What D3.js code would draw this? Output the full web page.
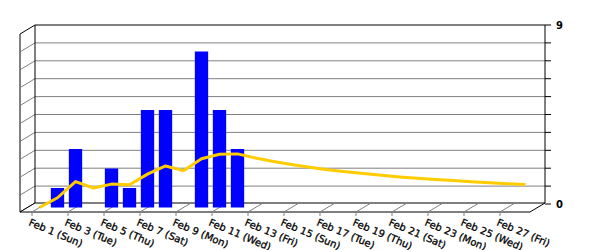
<!DOCTYPE html>
<html>
<head>
<meta charset="utf-8">
<script src="https://cdn.jsdelivr.net/npm/d3@7"></script>
<style>
body {margin: 0; background: #fff;}
text {font-family: 'DejaVu Sans', sans-serif; font-size: 10px; fill: #000;}
.xlab {stroke: #000; stroke-width: 0.3px;}
</style>
</head>
<body>
<svg id="chart" width="600" height="250"></svg>
<script>
// one category per day, Feb 1 .. Feb 28
var days = ['1','2','3','4','5','6','7','8','9','10','11','12','13','14',
  '15','16','17','18','19','20','21','22','23','24','25','26','27','28']

// daily counts (bars)
var counts = [0, 1, 3, 0, 2, 1, 5, 5, 0, 8, 5, 3, 0, 0,
  0, 0, 0, 0, 0, 0, 0, 0, 0, 0, 0, 0, 0, 0]

// running average (line)
var avg = [0, 0.5, 1.33, 1.0, 1.2, 1.17, 1.71, 2.13, 1.89, 2.5, 2.73, 2.75, 2.54, 2.36,
  2.2, 2.06, 1.94, 1.83, 1.74, 1.65, 1.57, 1.5, 1.43, 1.38, 1.32, 1.27, 1.22, 1.18]

var tickDays = ['1','3','5','7','9','11','13','15','17','19','21','23','25','27']
var tickLabels = ['Feb 1 (Sun)', 'Feb 3 (Tue)', 'Feb 5 (Thu)', 'Feb 7 (Sat)', 'Feb 9 (Mon)',
  'Feb 11 (Wed)', 'Feb 13 (Fri)', 'Feb 15 (Sun)', 'Feb 17 (Tue)', 'Feb 19 (Thu)',
  'Feb 21 (Sat)', 'Feb 23 (Mon)', 'Feb 25 (Wed)', 'Feb 27 (Fri)']

var axisLabels = [0, 9]


var left = 35, right = 545, wallTop = 25, bottom = 203
var dx = 15, dy = 9   // 3d depth offset
var grey = '#808080'

var svg = d3.select('#chart')

// categories sit half way into the floor
var x = d3.scalePoint().domain(days)
  .range([left - dx/2, right - dx/2])
  .padding(0.667)
var y = d3.scaleLinear().domain([0, 9]).range([bottom + dy/2, wallTop + 2.5 + dy/2])
var yAxis = d3.scaleLinear().domain([0, 9]).range([bottom + 1, wallTop])

var gridVals = d3.range(1, 10).map(i => i*0.9)

// side wall
svg.append('path')
  .attr('d', d3.line()([[left, wallTop], [left - dx, wallTop + dy], [left - dx, bottom + dy], [left, bottom]]))
  .attr('fill', '#fff').attr('stroke', '#000')

// gridlines on side + back wall
svg.selectAll('path.grid').data(gridVals).join('path')
  .attr('class', 'grid')
  .attr('d', v => d3.line()([[left - dx, yAxis(v) + dy], [left, yAxis(v)], [right, yAxis(v)]]))
  .attr('fill', 'none').attr('stroke', grey)

// back wall outline
svg.append('path')
  .attr('d', d3.line()([[left, bottom], [left, wallTop], [right, wallTop], [right, bottom]]))
  .attr('fill', 'none').attr('stroke', '#000')

// floor
svg.append('path')
  .attr('d', d3.line()([[left, bottom], [right, bottom], [right - dx, bottom + dy], [left - dx, bottom + dy], [left, bottom]]))
  .attr('fill', '#fff').attr('stroke', '#000')

// floor ticks
svg.selectAll('line.ftick').data(tickDays).join('line')
  .attr('class', 'ftick')
  .attr('x1', d => x(d) + dx/2).attr('y1', bottom)
  .attr('x2', d => x(d) - dx/2).attr('y2', bottom + dy)
  .attr('stroke', grey)

svg.selectAll('line.dtick').data(tickDays).join('line')
  .attr('class', 'dtick')
  .attr('x1', d => x(d) - dx/2).attr('y1', bottom + dy)
  .attr('x2', d => x(d) - dx/2).attr('y2', bottom + dy + 4)
  .attr('stroke', grey)

// bars
var bw = x.step()*0.74
svg.selectAll('rect.bar').data(days.filter((d, i) => counts[i] > 0)).join('rect')
  .attr('class', 'bar')
  .attr('x', d => x(d) - bw/2)
  .attr('width', bw)
  .attr('y', d => y(counts[days.indexOf(d)]))
  .attr('height', d => y(0) - y(counts[days.indexOf(d)]))
  .attr('fill', '#0000ff')

// running average line
svg.append('path')
  .datum(days)
  .attr('d', d3.line().x(d => x(d)).y((d, i) => y(avg[i])))
  .attr('fill', 'none')
  .attr('stroke', '#ffcc00')
  .attr('stroke-width', 3)
  .attr('stroke-linejoin', 'round')

// category labels
svg.selectAll('text.xlab').data(tickDays).join('text')
  .attr('class', 'xlab')
  .attr('transform', d => 'translate(' + (x(d) - dx/2 - 1) + ',' + (bottom + dy + 6) + ') rotate(23)')
  .attr('dy', '0.75em')
  .text((d, i) => tickLabels[i])

// right value axis
svg.selectAll('line.ytick').data([0].concat(gridVals, [9])).join('line')
  .attr('class', 'ytick')
  .attr('x1', right).attr('x2', right + 6)
  .attr('y1', v => yAxis(v)).attr('y2', v => yAxis(v))
  .attr('stroke', '#000')

svg.selectAll('text.ylab').data(axisLabels).join('text')
  .attr('class', 'ylab')
  .attr('x', right + 11)
  .attr('y', v => yAxis(v))
  .attr('dy', '0.35em')
  .attr('font-weight', 'bold')
  .text(d => d)
</script>
</body>
</html>
